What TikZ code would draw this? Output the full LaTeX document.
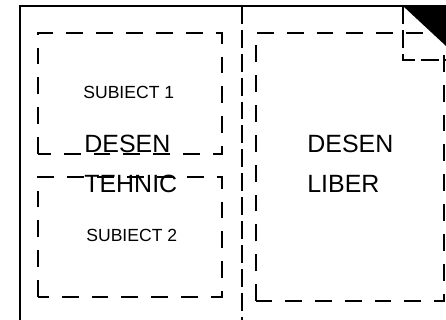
\documentclass[tikz,border=0pt]{standalone}
\usepackage{fontspec}
\setmainfont{Liberation Sans}
\usetikzlibrary{positioning}

\begin{document}
\begin{tikzpicture}[
        x=0.02cm, y=0.02cm,
        frameline/.style={line width=1.5pt, black},
        heavydash/.style={line width=1.6pt, black, dash pattern=on 10.2pt off 3.4pt},
        lightdash/.style={line width=0.85pt, black, dash pattern=on 9.6pt off 7.4pt},
        bigtext/.style={inner sep=0pt, anchor=base west, font=\fontsize{14.2}{17}\selectfont},
        smalltext/.style={inner sep=0pt, anchor=base west, font=\fontsize{10}{12}\selectfont}
    ]
    \useasboundingbox (0,0) rectangle (446,320);

    % --- Sheet frame ---
    \coordinate (sheet_tl) at (20,314);
    \coordinate (sheet_tr) at (446,314);
    \coordinate (sheet_bl) at (20,0);
    \draw[frameline] (sheet_bl) -- (sheet_tl) -- (sheet_tr);

    % --- Fold line ---
    \coordinate (fold_top) at (242,314);
    \coordinate (fold_bot) at (242,0);
    \draw[heavydash] (fold_top) -- (fold_bot);

    % --- Corner mark ---
    \coordinate (corner_a) at (403,314);
    \coordinate (corner_b) at (446,274);
    \coordinate (corner_c) at (446,260);
    \fill[black] (corner_a) -- (sheet_tr) -- (corner_b) -- cycle;
    \draw[heavydash] (corner_a) |- (corner_c);

    % --- Drawing areas ---
    \draw[lightdash] (38,166) rectangle (222,287);
    \draw[lightdash] (38,23) rectangle (222,143);
    \draw[lightdash] (256,19) rectangle (444,287);

    % --- Labels ---
    \node[smalltext] (subj1) at (83,221) {SUBIECT 1};
    \node[bigtext] (tech1) at (84,167) {DESEN};
    \node[bigtext] (tech2) at (84,127) {TEHNIC};
    \node[smalltext] (subj2) at (86,78) {SUBIECT 2};

    \node[bigtext] (free1) at (307,167) {DESEN};
    \node[bigtext] (free2) at (307,127) {LIBER};

\end{tikzpicture}
\end{document}
